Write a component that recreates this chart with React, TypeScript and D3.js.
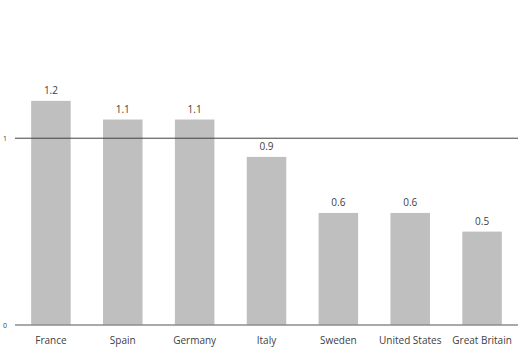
import { scaleBand, scaleLinear } from 'd3';

const countries = ['France', 'Spain', 'Germany', 'Italy', 'Sweden', 'United States', 'Great Britain'];
const values = [1.2, 1.1, 1.1, 0.9, 0.6, 0.6, 0.5];
const yTicks = [0, 1];

const width = 520;
const height = 351;
const margin = { top: 0, right: 2, bottom: 26, left: 15 };

const App = () => {
  const x = scaleBand()
    .domain(countries)
    .range([margin.left, width - margin.right])
    .paddingInner(0.45)
    .paddingOuter(0.225);

  const y = scaleLinear()
    .domain([0, 1.74])
    .range([height - margin.bottom, margin.top]);

  const font = "'Open Sans', 'DejaVu Sans', sans-serif";

  return (
    <svg
      width={width}
      height={height}
      style={{ position: 'absolute', left: 0, top: 0, background: '#fff' }}
    >
      {countries.map((c, i) => (
        <g key={c}>
          <rect
            x={x(c)}
            y={y(values[i])}
            width={x.bandwidth()}
            height={y(0) - y(values[i])}
            fill="#bfbfbf"
          />
          <text
            x={x(c)! + x.bandwidth() / 2}
            y={y(values[i]) - 7}
            textAnchor="middle"
            fontSize={10}
            fontFamily={font}
            fill="#404040"
          >
            {values[i].toFixed(1)}
          </text>
          <text
            x={x(c)! + x.bandwidth() / 2}
            y={y(0) + 19}
            textAnchor="middle"
            fontSize={10}
            fontFamily={font}
            fill="#404040"
          >
            {c}
          </text>
        </g>
      ))}
      {yTicks.map((t) => (
        <g key={t}>
          <line
            x1={margin.left}
            x2={width - margin.right}
            y1={y(t)}
            y2={y(t)}
            stroke={t === 0 ? '#8c8c8c' : '#404040'}
            strokeWidth={t === 0 ? 1.5 : 1}
          />
          <text
            x={5}
            y={y(t) + 3}
            textAnchor="middle"
            fontSize={7}
            fontFamily={font}
            fill="#404040"
          >
            {t}
          </text>
        </g>
      ))}
    </svg>
  );
};

export default App;
